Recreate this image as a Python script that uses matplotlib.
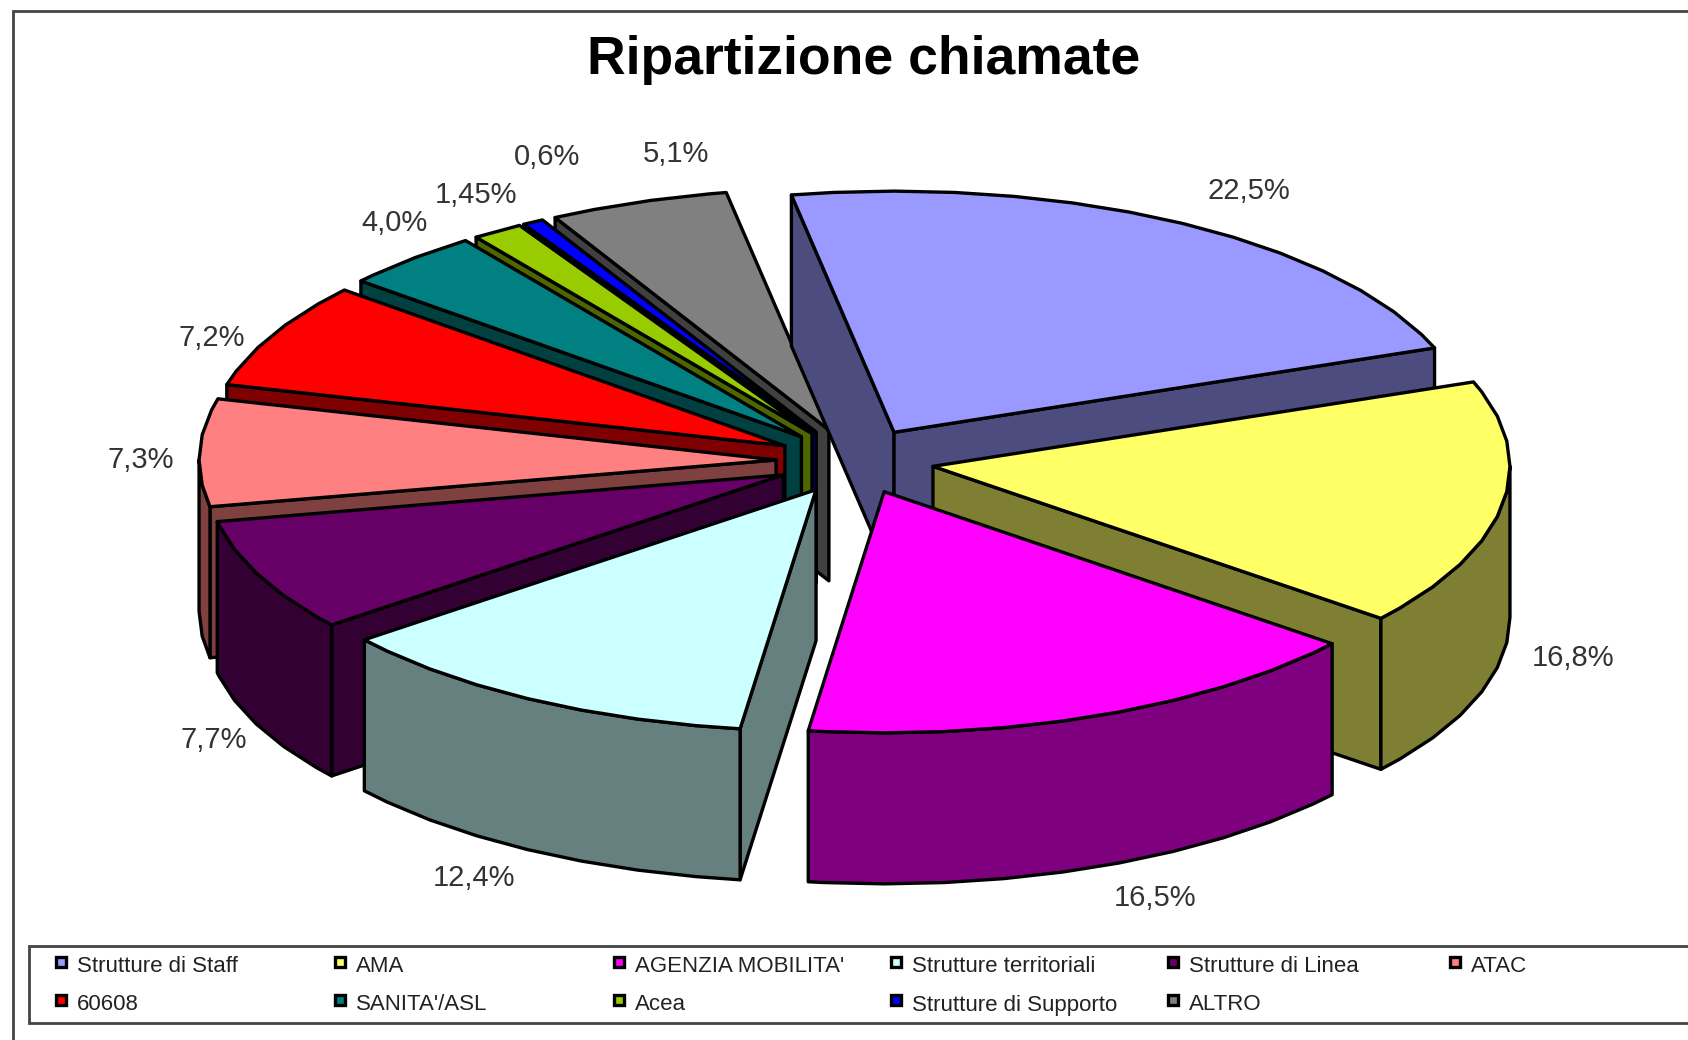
"""Ripartizione chiamate -- exploded Excel-style 3D pie, drawn as projected polygons."""
import numpy as np
import matplotlib
matplotlib.use("Agg")
import matplotlib.pyplot as plt
from matplotlib.patches import Polygon, Rectangle

categories = ["Strutture di Staff", "AMA", "AGENZIA MOBILITA'", "Strutture territoriali",
              "Strutture di Linea", "ATAC", "60608", "SANITA'/ASL", "Acea",
              "Strutture di Supporto", "ALTRO"]
values = [22.5, 16.8, 16.5, 12.4, 7.7, 7.3, 7.2, 4.0, 1.45, 0.6, 5.1]
value_labels = ["22,5%", "16,8%", "16,5%", "12,4%", "7,7%", "7,3%", "7,2%", "4,0%", "1,45%", "0,6%", "5,1%"]
top_colors = ["#9999FF", "#FFFF66", "#FF00FF", "#CCFFFF", "#660066", "#FF8080",
              "#FF0000", "#008080", "#99CC00", "#0000FF", "#808080"]
side_colors = ["#4C4C7F", "#7F7F33", "#7F007F", "#667F7F", "#330033", "#7F4040",
               "#7F0000", "#004040", "#4C6600", "#00007F", "#404040"]

# label centres and back-to-front order, pixels of the 1688x1040 picture
label_xy = [(1249, 191), (1573, 658), (1155, 898), (474, 878), (214, 740), (141, 460),
            (212, 338), (395, 223), (476, 195), (547, 157), (676, 154)]
draw_order = [10, 9, 8, 7, 6, 5, 4, 0, 1, 3, 2]

CX, CY = 855, 461      # pie centre before explosion
R, K = 577, 0.418      # radius, vertical squash
EXPLODE = 79
DEPTH = 151
START = -10.25         # degrees clockwise from north
ARC_STEP = 6           # top and wall share rim vertices on this grid
LW = 2.4

fig = plt.figure(figsize=(16.88, 10.4), dpi=100)
ax = fig.add_axes([0, 0, 1, 1])
ax.set_xlim(0, 1688)
ax.set_ylim(1040, 0)
ax.axis("off")


def rim(ox, oy, deg):
    t = np.radians(deg)
    return np.column_stack([ox + R * np.sin(t), oy - K * R * np.cos(t)])


def arc_angles(a0, a1):
    inner = np.arange(np.floor(a0 / ARC_STEP) + 1, np.ceil(a1 / ARC_STEP)) * ARC_STEP
    return np.concatenate([[a0], inner, [a1]])


def poly(pts, color, z):
    ax.add_patch(Polygon(pts, closed=True, facecolor=color, edgecolor="black",
                         linewidth=LW, joinstyle="round", zorder=z))


sweeps = np.array(values) / sum(values) * 360
starts = START + np.concatenate([[0], np.cumsum(sweeps)[:-1]])

for z, i in enumerate(draw_order):
    a0, a1 = starts[i], starts[i] + sweeps[i]
    mid = np.radians((a0 + a1) / 2)
    ox = CX + EXPLODE * np.sin(mid)
    oy = CY - K * EXPLODE * np.cos(mid)
    apex = np.array([[ox, oy]])
    down = np.array([0, DEPTH])

    # radial walls, only where they face the viewer
    for deg, visible in ((a0, np.sin(np.radians(a0)) < 0), (a1, np.sin(np.radians(a1)) > 0)):
        if visible:
            edge = np.vstack([apex, rim(ox, oy, deg)])
            poly(np.vstack([edge, edge[::-1] + down]), side_colors[i], z * 10 + 1)

    # outer wall: front half of the rim only
    b0, b1 = max(a0, 90), min(a1, 270)
    if b1 > b0:
        arc = rim(ox, oy, arc_angles(b0, b1))
        poly(np.vstack([arc, arc[::-1] + down]), side_colors[i], z * 10 + 2)

    arc = rim(ox, oy, arc_angles(a0, a1))
    poly(np.vstack([apex, arc]), top_colors[i], z * 10 + 3)

for (x, y), txt in zip(label_xy, value_labels):
    ax.text(x, y, txt, ha="center", va="center", fontsize=21, color="#333333",
            family="Liberation Sans", zorder=200)

ax.text(864, 60, "Ripartizione chiamate", ha="center", va="center", fontsize=38.5,
        fontweight="bold", family="Liberation Sans", color="black", zorder=200)

# outer frame, open on the right and at the bottom
ax.plot([13, 13, 1688], [1040, 11, 11], color="#444444", lw=2, solid_joinstyle="miter", zorder=300)

# legend
ax.plot([1688, 29, 29, 1688], [946, 946, 1023, 1023], color="#444444", lw=2,
        solid_joinstyle="miter", zorder=300)
col_x = [61, 340, 619, 896, 1173, 1455]
row_y = [962, 1000]
for i, (name, color) in enumerate(zip(categories, top_colors)):
    row, col = divmod(i, 6)
    mx, my = col_x[col], row_y[row]
    ax.add_patch(Rectangle((mx - 5, my - 5), 10, 10, facecolor=color, edgecolor="black",
                           linewidth=2.4, zorder=300))
    ax.text(mx + 16, my + 5, name, ha="left", va="center", fontsize=16, color="#222222",
            family="Liberation Sans", zorder=300)

fig.savefig("out.png", dpi=100, facecolor="white")
